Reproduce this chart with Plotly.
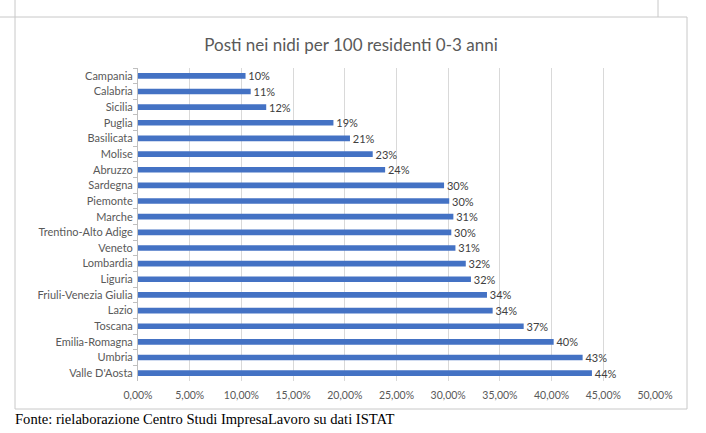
import plotly.graph_objects as go

regions = ["Campania", "Calabria", "Sicilia", "Puglia", "Basilicata", "Molise", "Abruzzo",
           "Sardegna", "Piemonte", "Marche", "Trentino-Alto Adige", "Veneto", "Lombardia",
           "Liguria", "Friuli-Venezia Giulia", "Lazio", "Toscana", "Emilia-Romagna",
           "Umbria", "Valle D'Aosta"]
values = [0.104, 0.109, 0.124, 0.189, 0.205, 0.227, 0.239,
          0.296, 0.301, 0.305, 0.303, 0.307, 0.317,
          0.322, 0.3375, 0.343, 0.373, 0.402,
          0.430, 0.439]
labels = ["10%", "11%", "12%", "19%", "21%", "23%", "24%",
          "30%", "30%", "31%", "30%", "31%", "32%",
          "32%", "34%", "34%", "37%", "40%",
          "43%", "44%"]
x_ticks = [0, 0.05, 0.10, 0.15, 0.20, 0.25, 0.30, 0.35, 0.40, 0.45, 0.50]

W, H = 706, 433
L, R, T, B = 138, 51, 68, 52
PW, PH = W - L - R, H - T - B

def px(x):
    return (x - L) / PW

def py(y):
    return (H - B - y) / PH

FONT = "Lato"

fig = go.Figure(go.Bar(
    x=values, y=regions, orientation="h",
    marker=dict(color="#4472C4", line=dict(width=0)),
    width=0.36,
    text=labels, texttemplate=" %{text}", textposition="outside", cliponaxis=False,
    constraintext="none",
    textfont=dict(family=FONT, size=11, color="#404040"),
    hoverinfo="skip",
))

fig.update_layout(
    width=W, height=H,
    margin=dict(l=L, r=R, t=T, b=B),
    paper_bgcolor="white", plot_bgcolor="white",
    separators=", ",
    showlegend=False,
    title=dict(text="Posti nei nidi per 100 residenti 0-3 anni",
               x=351 / W, xanchor="center", y=1 - 45 / H, yanchor="middle",
               font=dict(family=FONT, size=17, color="#595959")),
    xaxis=dict(range=[0, 0.5], tickvals=x_ticks, tickformat=".2%",
               showgrid=True, gridcolor="#d9d9d9", gridwidth=1,
               zeroline=False, showline=False, ticks="",
               ticklabelstandoff=6,
               tickfont=dict(family=FONT, size=10.5, color="#595959")),
    yaxis=dict(autorange="reversed", showgrid=False, zeroline=False,
               showline=True, linecolor="#bfbfbf", linewidth=1,
               ticks="outside", ticklen=4, tickcolor="#bfbfbf", tickson="boundaries",
               ticklabelstandoff=2,
               tickfont=dict(family=FONT, size=11, color="#595959")),
    shapes=[
        dict(type="rect", xref="paper", yref="paper",
             x0=px(15), x1=px(687), y0=py(409), y1=py(17),
             line=dict(color="#c8c8c8", width=1), layer="below"),
        dict(type="line", xref="paper", yref="paper",
             x0=px(15), x1=px(15), y0=py(0), y1=py(17),
             line=dict(color="#c8c8c8", width=1)),
        dict(type="line", xref="paper", yref="paper",
             x0=px(658), x1=px(658), y0=py(0), y1=py(17),
             line=dict(color="#c8c8c8", width=1)),
        dict(type="line", xref="paper", yref="paper",
             x0=px(0), x1=px(15), y0=py(17), y1=py(17),
             line=dict(color="#c8c8c8", width=1)),
    ],
    annotations=[
        dict(text="Fonte: rielaborazione Centro Studi ImpresaLavoro su dati ISTAT",
             xref="paper", yref="paper", x=px(13), y=py(419),
             xanchor="left", yanchor="middle", showarrow=False,
             font=dict(family="Liberation Serif", size=14.6, color="#000000")),
    ],
)

fig.write_html("out.html")
